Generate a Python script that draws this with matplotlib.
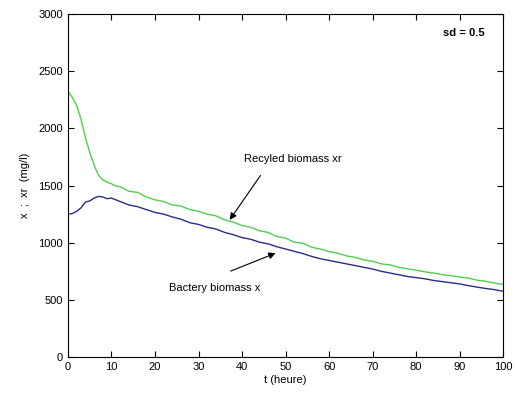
import numpy as np
import matplotlib.pyplot as plt

plt.rcParams['font.family'] = ['Liberation Sans', 'DejaVu Sans']

# time (hours)
t = [0, 1, 2, 3, 4, 5, 6, 7, 8, 9, 10, 11, 12,
     14, 16, 18, 20, 22, 24, 26, 28, 30, 32, 34, 36, 38, 40, 42, 44, 46, 48,
     50, 52, 54, 56, 58, 60, 62, 64, 66, 68, 70, 72, 74, 76, 78, 80, 82, 84,
     86, 88, 90, 92, 94, 96, 98, 100]

# recycled biomass xr (mg/l)
xr = [2325, 2270, 2200, 2080, 1920, 1790, 1680, 1590, 1550, 1530, 1515, 1495, 1490,
      1450, 1440, 1400, 1375, 1360, 1330, 1320, 1290, 1275, 1250, 1235, 1200, 1180,
      1150, 1135, 1105, 1090, 1055, 1040, 1005, 995, 960, 945, 922, 908, 885, 872,
      850, 838, 815, 806, 785, 772, 760, 746, 735, 721, 712, 700, 690, 673, 663,
      647, 636]

# bactery biomass x (mg/l)
x = [1250, 1255, 1275, 1305, 1355, 1365, 1390, 1405, 1400, 1385, 1390, 1375, 1360,
     1330, 1315, 1290, 1265, 1250, 1225, 1205, 1175, 1160, 1135, 1120, 1090, 1070,
     1045, 1030, 1005, 990, 965, 945, 925, 905, 880, 860, 845, 830, 815, 800,
     785, 770, 750, 735, 720, 705, 695, 685, 670, 660, 650, 640, 625, 612, 600,
     590, 575]

fig = plt.figure(figsize=(5.15, 3.99), dpi=100)
ax = fig.add_axes([0.132, 0.105, 0.845, 0.86])

ax.plot(t, xr, color='#4fcf4f', linewidth=1.0)
ax.plot(t, x, color='#2b2b8c', linewidth=1.0)

ax.set_xlim(0, 100)
ax.set_ylim(0, 3000)
ax.set_xticks(np.arange(0, 101, 10))
ax.set_yticks(np.arange(0, 3001, 500))
ax.tick_params(direction='in', top=True, right=True, labelsize=8, length=4, width=0.8)
for s in ax.spines.values():
    s.set_linewidth(0.8)

ax.set_xlabel('t (heure)', fontsize=8, labelpad=2)
ax.set_ylabel('x  ;  xr  (mg/l)', fontsize=8, labelpad=6)

ax.text(0.958, 0.945, 'sd = 0.5', transform=ax.transAxes, ha='right', va='center',
        fontsize=8, fontweight='bold')

arrow = dict(arrowstyle='-|>', color='black', lw=0.8, mutation_scale=10)
ax.text(51.7, 1731, 'Recyled biomass xr', fontsize=8, ha='center', va='center')
ax.annotate('', xy=(36.8, 1180), xytext=(44.6, 1608), arrowprops=arrow)
ax.text(33.8, 603, 'Bactery biomass x', fontsize=8, ha='center', va='center')
ax.annotate('', xy=(48.3, 918), xytext=(36.8, 743), arrowprops=arrow)

fig.savefig('out.png', dpi=100)
